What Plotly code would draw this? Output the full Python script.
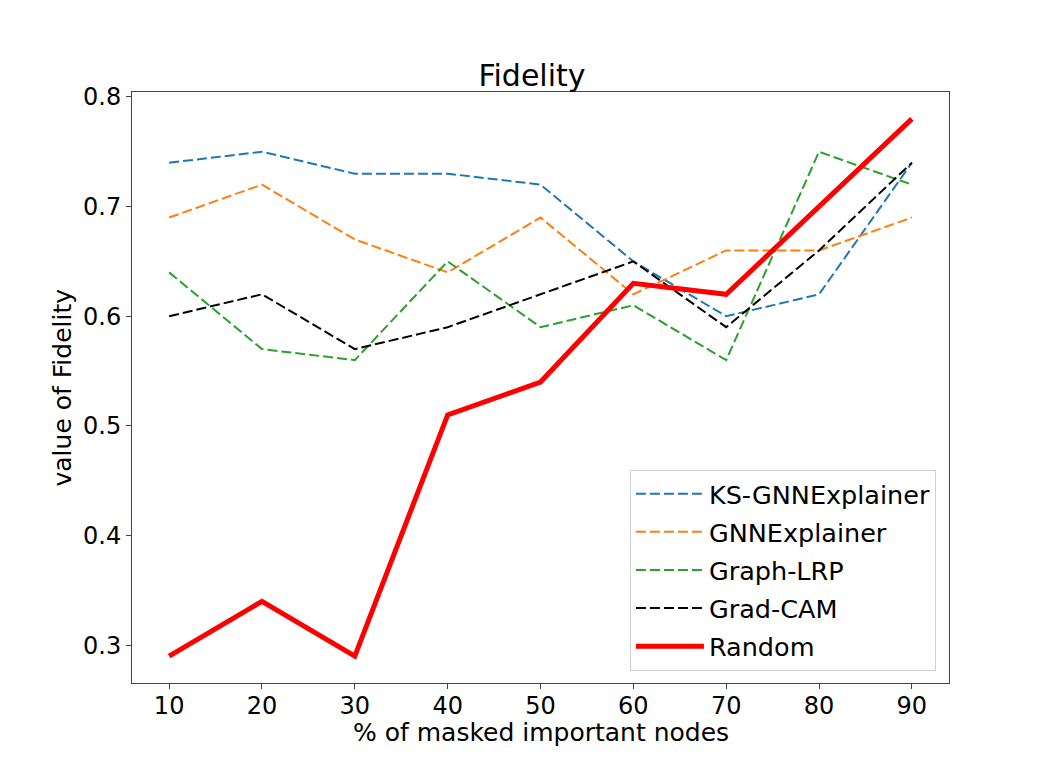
import plotly.graph_objects as go

# masked percentage on x axis
masked_pct = [10, 20, 30, 40, 50, 60, 70, 80, 90]

ks_gnnexplainer = [0.74, 0.75, 0.73, 0.73, 0.72, 0.65, 0.60, 0.62, 0.74]
gnnexplainer = [0.69, 0.72, 0.67, 0.64, 0.69, 0.62, 0.66, 0.66, 0.69]
graph_lrp = [0.64, 0.57, 0.56, 0.65, 0.59, 0.61, 0.56, 0.75, 0.72]
grad_cam = [0.60, 0.62, 0.57, 0.59, 0.62, 0.65, 0.59, 0.66, 0.74]
random_mask = [0.29, 0.34, 0.29, 0.51, 0.54, 0.63, 0.62, 0.70, 0.78]

y_ticks = [0.3, 0.4, 0.5, 0.6, 0.7, 0.8]

fig = go.Figure()

dashed = [
    ("KS-GNNExplainer", ks_gnnexplainer, "#1f77b4"),
    ("GNNExplainer", gnnexplainer, "#ff7f0e"),
    ("Graph-LRP", graph_lrp, "#2ca02c"),
    ("Grad-CAM", grad_cam, "#000000"),
]
for name, vals, col in dashed:
    fig.add_trace(go.Scatter(x=masked_pct, y=vals, name=name, mode="lines",
                             legendgroup=name,
                             line=dict(color=col, width=2, dash="10px,4px")))

fig.add_trace(go.Scatter(x=masked_pct, y=random_mask, name="Random", mode="lines",
                         legendgroup="Random",
                         line=dict(color="#ff0000", width=5)))

# page body has an 8px margin, so the figure is 8px smaller than the window
font = "DejaVu Sans, sans-serif"
axis_col = "#444444"
fig.update_layout(
    width=1048, height=760,
    paper_bgcolor="white", plot_bgcolor="white",
    margin=dict(l=124, r=107, t=84, b=85),
    font=dict(family=font, size=24, color="black"),
    title=dict(text="Fidelity", x=0.5, xanchor="center", y=1 - 67 / 760,
               yanchor="middle", font=dict(size=30)),
    legend=dict(x=0.984, xanchor="right", y=0.021, yanchor="bottom",
                bordercolor="#d0d0d0", borderwidth=1, bgcolor="white",
                font=dict(size=25.5), tracegroupgap=2, itemwidth=68),
    showlegend=True,
)

# axis titles as annotations so they sit where matplotlib put them
fig.add_annotation(text="% of masked important nodes", xref="paper", yref="paper",
                   x=0.5, y=0, yshift=-49, xanchor="center", yanchor="middle",
                   showarrow=False, font=dict(size=25))
fig.add_annotation(text="value of Fidelity", xref="paper", yref="paper",
                   x=0, y=0.5, xshift=-70, xanchor="center", yanchor="middle",
                   textangle=-90, showarrow=False, font=dict(size=25))

fig.update_xaxes(range=[6, 94], tickvals=masked_pct, ticks="outside", ticklen=5,
                 ticklabelstandoff=-4,
                 tickcolor=axis_col, showline=True, linecolor=axis_col, linewidth=1,
                 mirror=True, showgrid=False, zeroline=False)
fig.update_yaxes(range=[0.2655, 0.8045], tickvals=y_ticks, tickformat=".1f",
                 ticks="outside", ticklen=5, tickcolor=axis_col, showline=True,
                 linecolor=axis_col, linewidth=1, mirror=True, showgrid=False,
                 zeroline=False)

fig.write_html("out.html")
